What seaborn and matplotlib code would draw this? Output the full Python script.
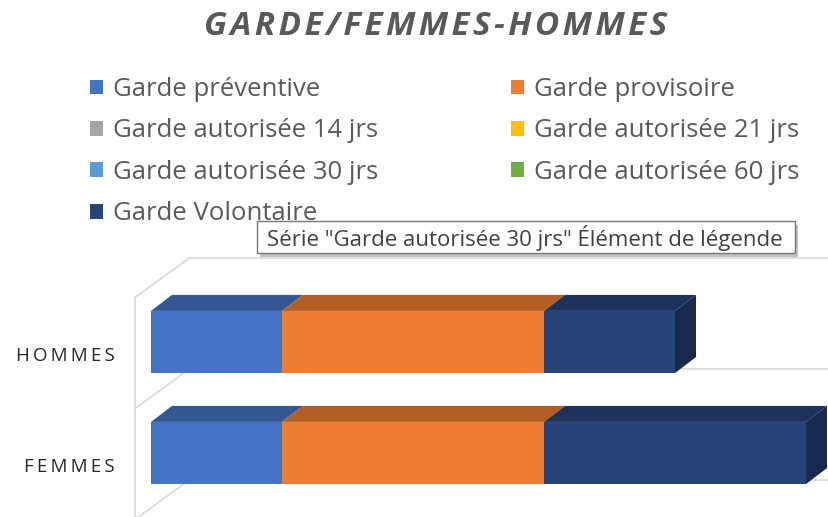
import matplotlib
matplotlib.use('Agg')
import matplotlib.pyplot as plt
import seaborn as sns
import pandas as pd
from matplotlib.patches import Polygon, Rectangle, Patch

# data (no axis shown, so relative units)
categories = ['HOMMES', 'FEMMES']
series = ['Garde préventive', 'Garde provisoire', 'Garde autorisée 14 jrs',
          'Garde autorisée 21 jrs', 'Garde autorisée 30 jrs',
          'Garde autorisée 60 jrs', 'Garde Volontaire']
hommes = [1, 2, 0, 0, 0, 0, 1]
femmes = [1, 2, 0, 0, 0, 0, 2]

front_colors = ['#4472C4', '#ED7D31', '#A5A5A5', '#FFC000', '#5B9BD5', '#70AD47', '#264478']
top_colors = ['#345794', '#B35E24', '#7C7C7C', '#BF9000', '#4474A0', '#548235', '#1E325A']
side_colors = ['#2B4A80', '#9A501E', '#6A6A6A', '#A37A00', '#3A6389', '#486F2D', '#182A4B']
title = 'GARDE/FEMMES-HOMMES'
tooltip = 'Série "Garde autorisée 30 jrs" Élément de légende'

sns.set_theme(style='white')
plt.rcParams['font.family'] = ['Open Sans', 'DejaVu Sans']

rows = []
for cat, vals in zip(categories, [hommes, femmes]):
    cum = 0
    for k, (s, v) in enumerate(zip(series, vals)):
        rows.append({'cat': cat, 'serie': s, 'k': k, 'val': v, 'left': cum, 'right': cum + v})
        cum += v
df = pd.DataFrame(rows)

W, H = 829, 517
fig = plt.figure(figsize=(W / 100, H / 100), dpi=100)
ax = fig.add_axes([0, 0, 1, 267 / H])

px_x, px_y = 131, 111          # pixels per data unit
bar_h = 0.56
dx, dy = 21 / px_x, 16 / px_y  # bar depth
fx, fy = -16 / px_x, 11 / px_y  # front plane of the walls relative to bars
Dx, Dy = 55 / px_x, 40 / px_y  # depth of the whole box

# stacked bars: cumulative totals drawn from the largest down
for k in reversed(range(len(series))):
    sub = df[(df.k == k) & (df.val > 0)]
    if sub.empty:
        continue
    sns.barplot(data=sub, x='right', y='cat', order=categories, orient='h',
                color=front_colors[k], saturation=1, width=bar_h, linewidth=0,
                errorbar=None, ax=ax, zorder=3)

ax.set_xlim(-151 / px_x, (W - 151) / px_x)
ax.set_ylim((517 - 342) / px_y, (250 - 342) / px_y)
ax.axis('off')

# walls of the 3D box
wall = dict(color='#D9D9D9', lw=1.2, zorder=1)
ylo, yhi = ax.get_ylim()
ax.plot([fx, fx], [-0.5 + fy, ylo], **wall)
for b in range(len(categories) + 1):
    yb = b - 0.5 + fy
    ax.plot([fx, fx + Dx], [yb, yb - Dy], **wall)
    ax.plot([fx + Dx, ax.get_xlim()[1]], [yb - Dy, yb - Dy], **wall)

# top and side faces of the bars
for i, cat in enumerate(categories):
    sub = df[(df.cat == cat) & (df.val > 0)]
    yt = i - bar_h / 2
    yb = i + bar_h / 2
    for _, r in sub.iterrows():
        ax.add_patch(Polygon([(r.left, yt), (r.left + dx, yt - dy), (r.right + dx, yt - dy), (r.right, yt)],
                             closed=True, fc=top_colors[r.k], ec='none', zorder=3))
    last = sub.iloc[-1]
    ax.add_patch(Polygon([(last.right, yt), (last.right + dx, yt - dy), (last.right + dx, yb - dy), (last.right, yb)],
                         closed=True, fc=side_colors[last.k], ec='none', zorder=3))
    ax.text(-36 / px_x, i + fy + 0.03, '\u2009'.join(cat),
            ha='right', va='center', fontsize=13.5, color='#262626')

# title
fig.text(435.5 / W, 1 - 27 / H, '\u200a'.join(title), ha='center', va='center',
         fontsize=24, fontweight='bold', fontstyle='italic', color='#595959')

# legend, row-major in two columns
handles = [Patch(facecolor=c, edgecolor='none') for c in front_colors]
leg_kw = dict(frameon=False, fontsize=18.5, labelcolor='#595959', loc='upper left',
              handlelength=0.5, handleheight=0.5, handletextpad=0.4,
              labelspacing=0.64, borderpad=0, borderaxespad=0)
col1 = [0, 2, 4, 6]
col2 = [1, 3, 5]
fig.legend([handles[j] for j in col1], [series[j] for j in col1],
           bbox_to_anchor=(90 / W, 1 - 77 / H), **leg_kw)
fig.legend([handles[j] for j in col2], [series[j] for j in col2],
           bbox_to_anchor=(511 / W, 1 - 77 / H), **leg_kw)

# hover tooltip box
fig.add_artist(Rectangle((260 / W, 1 - 257 / H), 538 / W, 32 / H, transform=fig.transFigure,
                         fc='#9A9A9A', ec='none', alpha=0.6, zorder=4))
fig.add_artist(Rectangle((257 / W, 1 - 253 / H), 538 / W, 32 / H, transform=fig.transFigure,
                         fc='white', ec='#767676', lw=1, zorder=5))
fig.text(267 / W, 1 - 238 / H, tooltip, ha='left', va='center', fontsize=16,
         color='#404040', zorder=6)

fig.savefig('out.png', dpi=100)
